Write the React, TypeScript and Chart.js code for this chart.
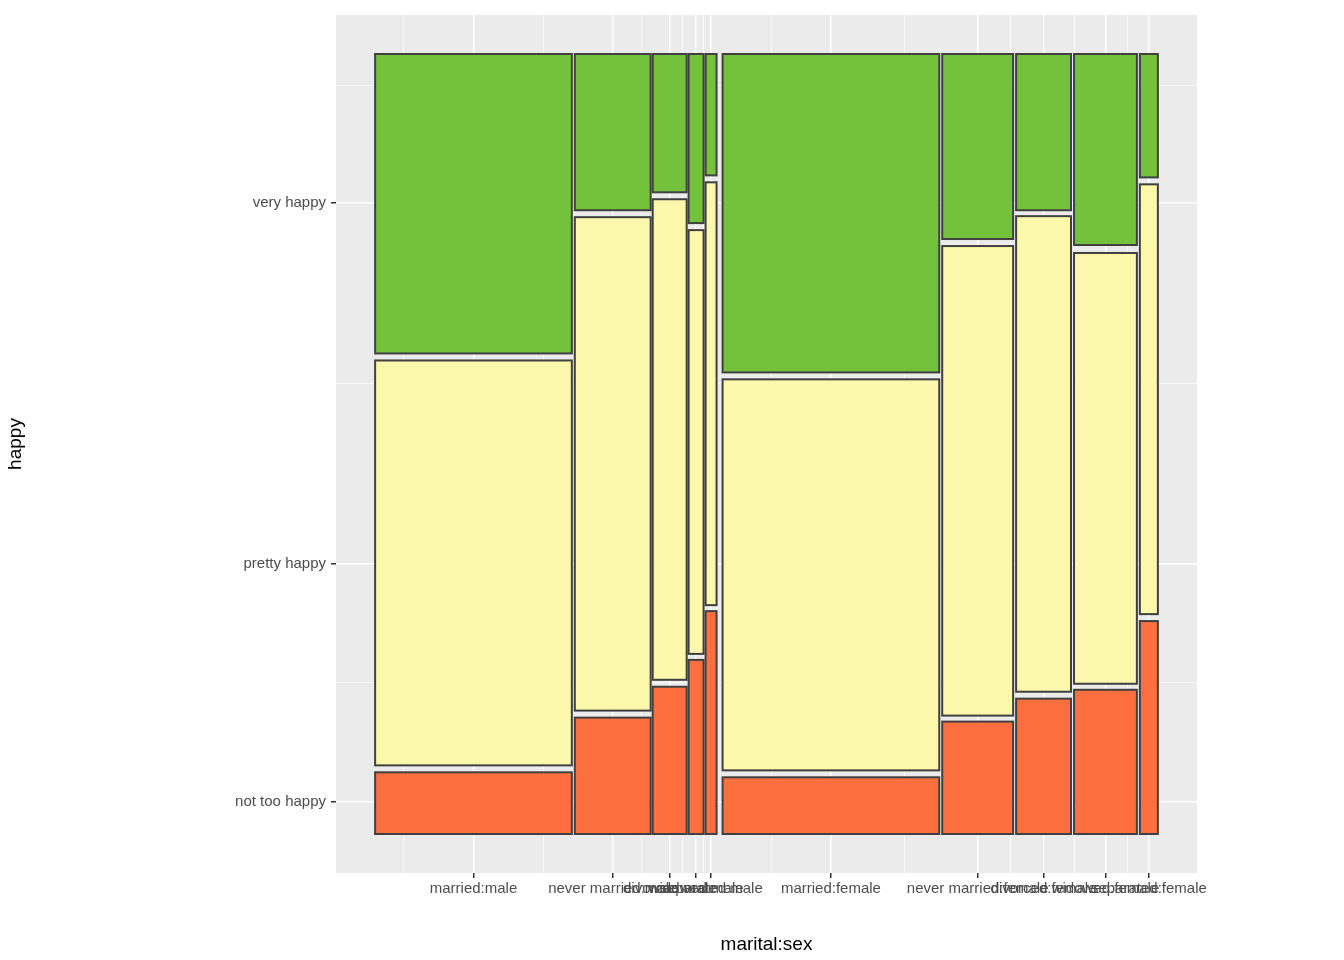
import React, { useEffect, useRef } from "react";
import { Chart, registerables } from "chart.js";
Chart.register(...registerables);

const categories = ["married:male", "never married:male", "divorced:male", "widowed:male", "separated:male", "married:female", "never married:female", "divorced:female", "widowed:female", "separated:female"];
const xStart = [0, 0.2551, 0.3546, 0.4005, 0.4222, 0.4439, 0.7245, 0.8189, 0.8929, 0.977];
const xEnd = [0.2513, 0.352, 0.398, 0.4196, 0.4362, 0.7207, 0.8151, 0.889, 0.9732, 1.0];
const notTooTop = [0.0791, 0.1492, 0.1888, 0.2232, 0.2857, 0.0727, 0.1441, 0.1735, 0.1849, 0.273];
const prettyBottom = [0.088, 0.1582, 0.1977, 0.2309, 0.2934, 0.0816, 0.1518, 0.1824, 0.1926, 0.2819];
const prettyTop = [0.6071, 0.7908, 0.8138, 0.7742, 0.8355, 0.5829, 0.7538, 0.7921, 0.7449, 0.8329];
const veryBottom = [0.6161, 0.7997, 0.8227, 0.7832, 0.8444, 0.5918, 0.7628, 0.7997, 0.7551, 0.8418];
const yLabels = ["not too happy", "pretty happy", "very happy"];
const yTickVals = [0.0408, 0.3469, 0.8087];
const yMinor = [0.1939, 0.5778, 0.96];

const COLORS = { very: "#74C13B", pretty: "#FBF8AB", notToo: "#FD6F3F" };

export default function App() {
  const ref = useRef<HTMLCanvasElement>(null);
  useEffect(() => {
    const centers = xStart.map((s, i) => (s + xEnd[i]) / 2);
    const xMinor = [centers[0] - (centers[1] - centers[0]) / 2];
    for (let i = 0; i < centers.length - 1; i++) xMinor.push((centers[i] + centers[i + 1]) / 2);
    const xVals = [...centers, ...xMinor];
    const yVals = [...yTickVals, ...yMinor];
    const isMajorX = (v: number) => centers.includes(v);
    const isMajorY = (v: number) => yTickVals.includes(v);

    const mosaic = {
      id: "mosaic",
      beforeDraw(c: any) {
        const a = c.chartArea;
        c.ctx.save();
        c.ctx.fillStyle = "#EBEBEB";
        c.ctx.fillRect(a.left, a.top, a.right - a.left, a.bottom - a.top);
        c.ctx.restore();
      },
      afterDatasetsDraw(c: any) {
        const ctx = c.ctx, x = c.scales.x, y = c.scales.y;
        ctx.save();
        ctx.lineWidth = 2;
        ctx.strokeStyle = "#404040";
        const rect = (x0: number, x1: number, y0: number, y1: number, col: string) => {
          const px0 = x.getPixelForValue(x0), px1 = x.getPixelForValue(x1);
          const py0 = y.getPixelForValue(y0), py1 = y.getPixelForValue(y1);
          ctx.fillStyle = col;
          ctx.fillRect(px0, py1, px1 - px0, py0 - py1);
          ctx.strokeRect(px0, py1, px1 - px0, py0 - py1);
        };
        categories.forEach((_, i) => {
          rect(xStart[i], xEnd[i], 0, notTooTop[i], COLORS.notToo);
          rect(xStart[i], xEnd[i], prettyBottom[i], prettyTop[i], COLORS.pretty);
          rect(xStart[i], xEnd[i], veryBottom[i], 1, COLORS.very);
        });
        ctx.restore();
      },
    };

    const chart = new Chart(ref.current!, {
      type: "scatter",
      data: { datasets: [{ data: [] }] },
      plugins: [mosaic],
      options: {
        animation: false,
        responsive: false,
        layout: { padding: { top: 15, right: 147, left: 0, bottom: 0 } },
        plugins: { legend: { display: false }, tooltip: { enabled: false } },
        scales: {
          x: {
            type: "linear", min: -0.05, max: 1.05,
            afterBuildTicks: (s: any) => { s.ticks = xVals.map((v) => ({ value: v })); },
            afterFit: (s: any) => { s.height = 87; },
            ticks: {
              autoSkip: false, maxRotation: 0, padding: 2,
              color: "#4D4D4D", font: { family: "Liberation Sans", size: 15 },
              callback: (v: any) => { const i = centers.indexOf(v); return i >= 0 ? categories[i] : ""; },
            },
            grid: {
              color: "#FFFFFF",
              lineWidth: (c: any) => (c.tick && isMajorX(c.tick.value) ? 1.5 : 0.7),
              tickColor: (c: any) => (c.tick && isMajorX(c.tick.value) ? "#333333" : "rgba(0,0,0,0)"),
              tickWidth: 1.5, tickLength: 5,
            },
            border: { display: false },
            title: { display: true, text: "marital:sex", color: "#000", font: { family: "Liberation Sans", size: 19 }, padding: { top: 4 } },
          },
          y: {
            type: "linear", min: -0.05, max: 1.05,
            afterBuildTicks: (s: any) => { s.ticks = yVals.map((v) => ({ value: v })); },
            afterFit: (s: any) => { s.width = 336; },
            ticks: {
              autoSkip: false, padding: 5,
              color: "#4D4D4D", font: { family: "Liberation Sans", size: 15 },
              callback: (v: any) => { const i = yTickVals.indexOf(v); return i >= 0 ? yLabels[i] : ""; },
            },
            grid: {
              color: "#FFFFFF",
              lineWidth: (c: any) => (c.tick && isMajorY(c.tick.value) ? 1.5 : 0.7),
              tickColor: (c: any) => (c.tick && isMajorY(c.tick.value) ? "#333333" : "rgba(0,0,0,0)"),
              tickWidth: 1.5, tickLength: 5,
            },
            border: { display: false },
            title: { display: true, text: "happy", color: "#000", font: { family: "Liberation Sans", size: 19 }, padding: { bottom: 0 } },
          },
        },
      } as any,
    });
    return () => chart.destroy();
  }, []);
  return (
    <div style={{ position: "fixed", left: 0, top: 0, width: 1344, height: 960, background: "#fff" }}>
      <canvas ref={ref} width={1344} height={960} style={{ width: 1344, height: 960 }} />
    </div>
  );
}
